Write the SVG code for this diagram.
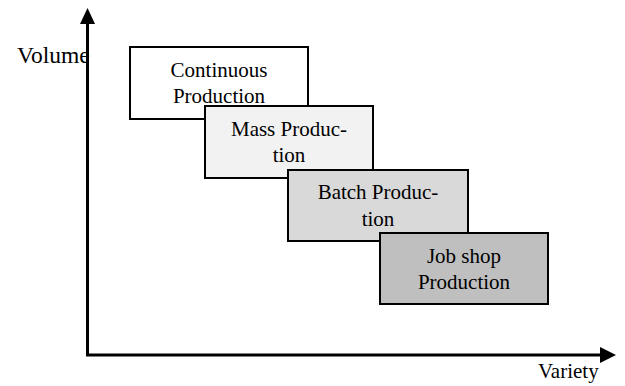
<svg xmlns="http://www.w3.org/2000/svg" width="625" height="386" viewBox="0 0 625 386">
<style>
.box{stroke:#000;stroke-width:2}
.t{font-family:"Liberation Serif","Times New Roman",serif;font-size:21px;fill:#000;text-anchor:middle}
.ax{stroke:#000;stroke-width:3;fill:none}
</style>
<rect width="625" height="386" fill="#fff"/>
<text x="17" y="63" style="font-family:'Liberation Serif','Times New Roman',serif;font-size:23.5px">Volume</text>
<text x="538" y="378" style="font-family:'Liberation Serif','Times New Roman',serif;font-size:21px">Variety</text>
<g id="axes">
<path class="ax" d="M87.5,22 V355 H602"/>
<polygon points="87.5,8 80,24 95,24" fill="#000"/>
<polygon points="616,355 600,347 600,363" fill="#000"/>
</g>
<g id="continuous">
<rect class="box" x="130" y="47" width="178" height="72" fill="#fff"/>
<text class="t" x="219" y="77">Continuous</text>
<text class="t" x="219" y="103">Production</text>
</g>
<g id="mass">
<rect class="box" x="205" y="106" width="168" height="72" fill="#f2f2f2"/>
<text class="t" x="289" y="136">Mass Produc-</text>
<text class="t" x="289" y="162">tion</text>
</g>
<g id="batch">
<rect class="box" x="288" y="170" width="180" height="71" fill="#d9d9d9"/>
<text class="t" x="378" y="199">Batch Produc-</text>
<text class="t" x="378" y="226">tion</text>
</g>
<g id="jobshop">
<rect class="box" x="380" y="233" width="168" height="71" fill="#bfbfbf"/>
<text class="t" x="464" y="263">Job shop</text>
<text class="t" x="464" y="289">Production</text>
</g>
</svg>
